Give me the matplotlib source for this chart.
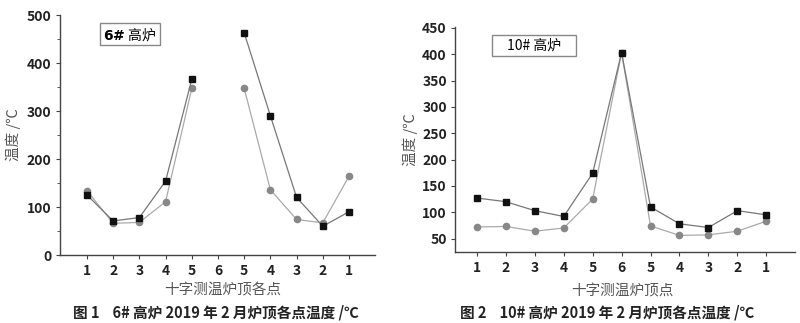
import matplotlib
matplotlib.use('Agg')
import matplotlib.pyplot as plt
from matplotlib.patches import Rectangle
import numpy as np

plt.rcParams['font.family'] = ['Noto Sans CJK SC', 'DejaVu Sans']

# 十字测温各点 (1-5, 中心 6, 5-1)
point_labels = ['1', '2', '3', '4', '5', '6', '5', '4', '3', '2', '1']

# 6# 高炉 (中心点 6 无数据)
f6_black = [125, 71, 78, 154, 366, np.nan, 463, 290, 120, 60, 90]
f6_gray = [134, 66, 68, 111, 347, np.nan, 347, 136, 74, 67, 164]

# 10# 高炉
f10_black = [127, 120, 103, 92, 174, 403, 110, 78, 71, 103, 95]
f10_gray = [72, 73, 64, 70, 125, 403, 74, 56, 57, 64, 83]

fig = plt.figure(figsize=(8, 3.23), dpi=100)

ax1 = fig.add_axes([0.075, 0.2105, 0.394, 0.743])
ax2 = fig.add_axes([0.569, 0.219, 0.425, 0.698])

label_color = '#555555'
spine_color = '#444444'


def style_axes(ax, xlim, ylim, yticks, yminor):
    x = np.arange(len(point_labels))
    ax.set_xlim(*xlim)
    ax.set_ylim(*ylim)
    ax.set_xticks(x)
    ax.set_xticklabels(point_labels)
    ax.set_yticks(yticks)
    if yminor is not None:
        ax.set_yticks(yminor, minor=True)
    for s in ['top', 'right']:
        ax.spines[s].set_visible(False)
    for s in ['left', 'bottom']:
        ax.spines[s].set_color(spine_color)
        ax.spines[s].set_linewidth(1.0)
    ax.tick_params(axis='both', which='major', length=3, width=0.8,
                   color=spine_color, labelsize=10, pad=3)
    ax.tick_params(axis='y', which='minor', length=2, width=0.6, color=spine_color)
    for lab in ax.get_xticklabels() + ax.get_yticklabels():
        lab.set_fontweight('bold')
        lab.set_color('#222222')
    ax.tick_params(axis='x', pad=3.5)


def label_box(ax, x0, y0, x1, y1, text):
    ax.add_patch(Rectangle((x0, y0), x1 - x0, y1 - y0, transform=ax.transAxes,
                           fc='white', ec='#888888', lw=1.0, zorder=3))
    ax.text((x0 + x1) / 2, (y0 + y1) / 2, text, transform=ax.transAxes,
            fontsize=10, va='center', ha='center', zorder=4)


x = np.arange(len(point_labels))

# 图1
ax1.plot(x, f6_gray, color='#aaaaaa', lw=0.9, marker='o', ms=4.5,
         mfc='#888888', mec='#888888')
ax1.plot(x, f6_black, color='#777777', lw=0.9, marker='s', ms=4.5,
         mfc='#111111', mec='#111111')
style_axes(ax1, (-1.03, 11), (0, 500), np.arange(0, 501, 100),
           np.arange(50, 500, 100))
ax1.set_ylabel('温度 /℃', color=label_color, fontsize=10.5, labelpad=4)
label_box(ax1, 0.127, 0.875, 0.317, 0.967, r'$\mathbf{6\#}$ 高炉')

# 图2
ax2.plot(x, f10_gray, color='#aaaaaa', lw=0.9, marker='o', ms=4.5,
         mfc='#888888', mec='#888888')
ax2.plot(x, f10_black, color='#777777', lw=0.9, marker='s', ms=4.5,
         mfc='#111111', mec='#111111')
style_axes(ax2, (-0.75, 11), (24, 452), np.arange(50, 451, 50), None)
ax2.set_ylabel('温度 /℃', color=label_color, fontsize=10.5, labelpad=3)
label_box(ax2, 0.109, 0.870, 0.356, 0.963, '10# 高炉')

# x 轴标题
fig.text(0.278, 0.102, '十字测温炉顶各点', ha='center', va='center',
         fontsize=10.5, color=label_color)
fig.text(0.778, 0.098, '十字测温炉顶点', ha='center', va='center',
         fontsize=10.5, color=label_color)

# 图题
fig.text(0.27, 0.032, '图 1    6# 高炉 2019 年 2 月炉顶各点温度 /℃',
         ha='center', va='center', fontsize=10.5, fontweight='bold', color='#222222')
fig.text(0.759, 0.032, '图 2    10# 高炉 2019 年 2 月炉顶各点温度 /℃',
         ha='center', va='center', fontsize=10.5, fontweight='bold', color='#222222')

fig.savefig('out.png', dpi=100)
plt.close(fig)
